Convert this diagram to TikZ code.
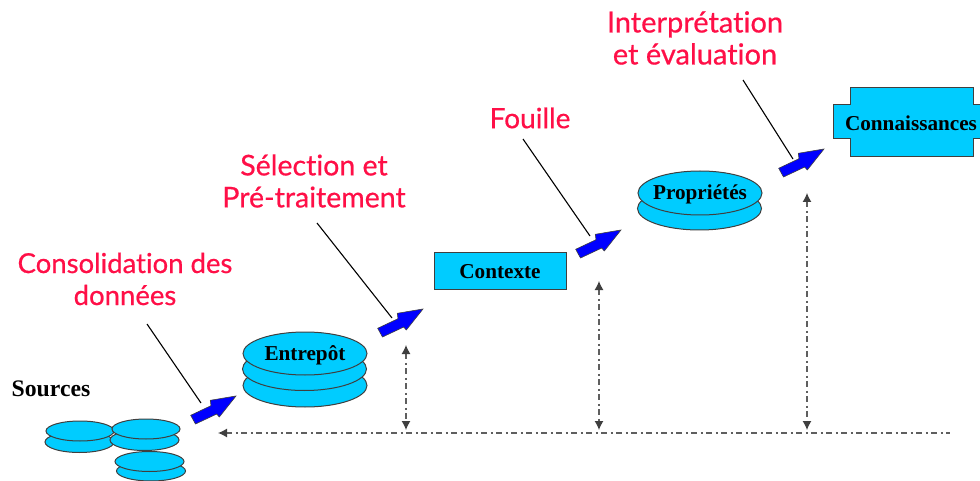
\documentclass[tikz,border=0pt]{standalone}
\usepackage{fontspec}
\setmainfont{Liberation Serif}
\newfontfamily\labelfont[Ligatures=NoCommon,FakeBold=0.6]{Lato}
\definecolor{disk}{HTML}{00CCFF}
\definecolor{edge}{HTML}{3F3F3F}
\definecolor{dashgrey}{HTML}{5F5F5F}
\definecolor{labelred}{HTML}{FF0F47}
\definecolor{fatblue}{HTML}{0000FF}
\usetikzlibrary{arrows.meta,shapes.geometric}
\tikzset{
  diskpart/.style={ellipse,draw=edge,fill=disk,line width=1pt,inner sep=0pt,outer sep=0pt},
  boldtext/.style={font=\bfseries\fontsize{21.2}{24}\selectfont,text=black,inner sep=0pt},
  steplabel/.style={font=\labelfont\fontsize{27.5}{32}\selectfont,text=labelred,align=center,inner sep=0pt},
  leader/.style={draw=black,line width=1.1pt},
  timeline/.style={draw=dashgrey,line width=1.2pt,dash pattern=on 6pt off 3.5pt on 2pt off 3.5pt},
  fatarrow/.style={fill=fatblue,draw=edge,line width=0.6pt,line join=miter},
}
\newcommand{\fatarrowat}[1]{%
  \path[fatarrow,shift={(#1)}] (0,0) -- (-25.7,4.3) -- (-25,9.7) -- (-45.3,19.3) -- (-40.5,28) -- (-19.3,18) -- (-16.7,21) -- cycle;}
\newcommand{\diskat}[4]{\node[diskpart,minimum width=#3pt*2,minimum height=#4pt*2] (#1) at (#2) {};}
\begin{document}
\begin{tikzpicture}[x=1pt,y=-1pt]
\useasboundingbox (0,0) rectangle (980,481);
% Sources
\node[boldtext,font=\bfseries\fontsize{23.7}{26}\selectfont] (sources) at (51,389) {Sources};
\diskat{sa2}{79.5,442}{34.5}{10.5}
\diskat{sa1}{80,431}{34}{10}
\diskat{sb2}{144.5,440}{34.5}{10.5}
\diskat{sb1}{146,429}{34}{10}
\diskat{sc2}{151,471}{34.5}{10}
\diskat{sc1}{149.5,461.5}{34.5}{10}
% Entrepot
\diskat{e3}{305,385.5}{62}{21.5}
\diskat{e2}{304.5,369}{62}{21.5}
\diskat{e1}{305,353.5}{62}{21.5}
\node[boldtext] (entrepot) at (305,355) {Entrep\^ot};
% Contexte
\node[draw=edge,fill=disk,line width=1pt,minimum width=132pt,minimum height=36pt,inner sep=0pt] (contexteb) at (500,271) {};
\node[boldtext] (contexte) at (500,272) {Contexte};
% Proprietes
\diskat{p2}{699.5,208.5}{62}{21.5}
\diskat{p1}{700,193}{62}{22}
\node[boldtext] (proprietes) at (700,194) {Propri\'et\'es};
% Connaissances
\path[fill=disk] (850,88) -- (973,88) -- (973,105) -- (980,105) -- (980,139) -- (973,139) -- (973,157) -- (850,157) -- (850,139) -- (833,139) -- (833,105) -- (850,105) -- cycle;
\draw[draw=edge,line width=1pt] (980,105) -- (973,105) -- (973,88) -- (850,88) -- (850,105) -- (833,105) -- (833,139) -- (850,139) -- (850,157) -- (973,157) -- (973,139) -- (980,139);
\node[boldtext] (connaissances) at (911,123) {Connaissances};
% Labels
\node[steplabel] (l1) at (125,279) {Consolidation des\\donn\'ees};
\node[steplabel,font=\labelfont\fontsize{28.5}{32}\selectfont] (l2) at (314,181) {S\'election et\\Pr\'e-traitement};
\node[steplabel,font=\labelfont\fontsize{28}{32}\selectfont] (l3) at (530,118) {Fouille};
\node[steplabel,font=\labelfont\fontsize{29}{32}\selectfont] (l4) at (695,38) {Interpr\'etation\\et \'evaluation};
% Leaders
\coordinate (a1) at (147,324); \coordinate (b1) at (201,403);
\coordinate (a2) at (317,223); \coordinate (b2) at (392,318);
\coordinate (a3) at (523,139); \coordinate (b3) at (590,236);
\coordinate (a4) at (743,80);  \coordinate (b4) at (793,159);
\draw[leader] (a1) -- (b1);
\draw[leader] (a2) -- (b2);
\draw[leader] (a3) -- (b3);
\draw[leader] (a4) -- (b4);
% Fat arrows
\fatarrowat{236,396}
\fatarrowat{423,309}
\fatarrowat{621,230}
\fatarrowat{824,149}
% Timeline
\coordinate (t0) at (218,433); \coordinate (t1) at (950,433);
\coordinate (v1a) at (406,345); \coordinate (v1b) at (406,430);
\coordinate (v2a) at (599,281); \coordinate (v2b) at (599,430);
\coordinate (v3a) at (807,193); \coordinate (v3b) at (807,430);
\draw[timeline,{Latex[length=9pt,width=9pt,color=edge]}-] (t0) -- (t1);
\draw[timeline,{Latex[length=9pt,width=9pt,color=edge]}-{Latex[length=9pt,width=9pt,color=edge]}] (v1a) -- (v1b);
\draw[timeline,{Latex[length=9pt,width=9pt,color=edge]}-{Latex[length=9pt,width=9pt,color=edge]}] (v2a) -- (v2b);
\draw[timeline,{Latex[length=9pt,width=9pt,color=edge]}-{Latex[length=9pt,width=9pt,color=edge]}] (v3a) -- (v3b);
\end{tikzpicture}
\end{document}
